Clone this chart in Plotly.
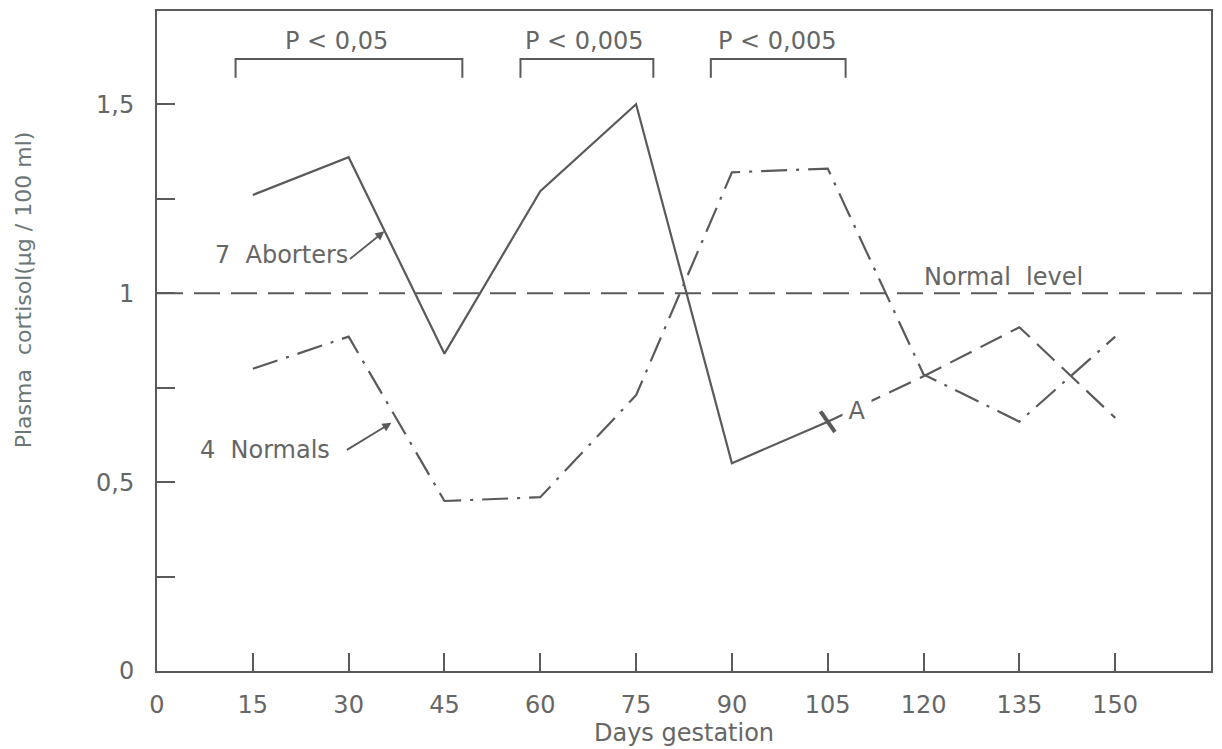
import plotly.graph_objects as go

# Days of gestation at which plasma cortisol was sampled
days = [15, 30, 45, 60, 75, 90, 105, 120, 135, 150]

# Mean plasma cortisol (µg / 100 ml)
aborters = [1.26, 1.36, 0.84, 1.27, 1.50, 0.55, 0.66, 0.78, 0.91, 0.67]
normals = [0.80, 0.885, 0.45, 0.46, 0.73, 1.32, 1.33, 0.785, 0.66, 0.885]
normal_level = 1.0

# Significance brackets: (start day, end day, label)
brackets = [(12.3, 47.8, "P < 0,05"), (56.9, 77.7, "P < 0,005"), (86.7, 107.8, "P < 0,005")]

x_ticks = [0, 15, 30, 45, 60, 75, 90, 105, 120, 135, 150]
y_ticks = [0, 0.25, 0.5, 0.75, 1.0, 1.25, 1.5]
y_tick_text = ["0", "", "0,5", "", "1", "", "1,5"]

INK = "#5a5a5a"
TEXT = "#666666"
FONT = "DejaVu Sans"
FS = 24

fig = go.Figure()

# Normal reference level
fig.add_trace(go.Scatter(
    x=[0, 165], y=[normal_level, normal_level], mode="lines",
    line=dict(color=INK, width=2, dash="26px,11px"), hoverinfo="skip"))

# Normals: dash-dot line
fig.add_trace(go.Scatter(
    x=days, y=normals, mode="lines",
    line=dict(color=INK, width=2.2, dash="26px,9px,3px,9px")))

# Aborters: solid until abortion (A), dashed afterwards
split = 6
fig.add_trace(go.Scatter(
    x=days[:split + 1], y=aborters[:split + 1], mode="lines",
    line=dict(color=INK, width=2.2)))
fig.add_trace(go.Scatter(
    x=days[split:], y=aborters[split:], mode="lines",
    line=dict(color=INK, width=2.2, dash="24px,10px")))
fig.add_trace(go.Scatter(
    x=[days[split]], y=[aborters[split]], mode="markers",
    marker=dict(symbol="line-ns", size=18, angle=-35,
                line=dict(color=INK, width=4)), hoverinfo="skip"))

shapes = []
annotations = []
top, leg = 1.62, 1.57
for x0, x1, label in brackets:
    shapes.append(dict(
        type="path", xref="x", yref="y",
        path=f"M {x0},{leg} L {x0},{top} L {x1},{top} L {x1},{leg}",
        line=dict(color=INK, width=2)))
annotations += [
    dict(x=28.1, y=1.667, text="P < 0,05", showarrow=False),
    dict(x=66.9, y=1.667, text="P < 0,005", showarrow=False),
    dict(x=97.2, y=1.667, text="P < 0,005", showarrow=False),
    dict(x=132.5, y=1.042, text="Normal  level", showarrow=False),
    dict(x=19.5, y=1.10, text="7  Aborters", showarrow=False),
    dict(x=16.9, y=0.586, text="4  Normals", showarrow=False),
    dict(x=109.6, y=0.688, text="A", showarrow=False, bgcolor="white",
         width=26, height=26),
    # leader arrows from labels to curves
    dict(x=35.6, y=1.164, ax=-36, ay=29, text="", showarrow=True,
         arrowhead=2, arrowsize=1, arrowwidth=1.8, arrowcolor=INK, standoff=0),
    dict(x=36.7, y=0.657, ax=-46, ay=28, text="", showarrow=True,
         arrowhead=2, arrowsize=1, arrowwidth=1.8, arrowcolor=INK, standoff=0),
    # vertical axis title
    dict(xref="paper", yref="paper", x=-0.127, y=0.577, xanchor="center",
         yanchor="middle", text="Plasma  cortisol(µg / 100 ml)", textangle=-90,
         showarrow=False, font=dict(family=FONT, size=22, color="#6b7676")),
]
for a in annotations:
    a.setdefault("font", dict(family=FONT, size=FS, color=TEXT))

fig.update_layout(
    width=1222, height=749,
    margin=dict(l=157, r=9, t=10, b=77),
    paper_bgcolor="white", plot_bgcolor="white",
    showlegend=False,
    shapes=shapes, annotations=annotations,
    font=dict(family=FONT, size=FS, color=TEXT),
    xaxis=dict(
        range=[0, 165], tickvals=x_ticks, ticks="inside", ticklen=18,
        tickwidth=2, tickcolor=INK, showgrid=False, zeroline=False,
        showline=True, linecolor=INK, linewidth=2, mirror=True,
        ticklabelstandoff=11,
        title=dict(text="Days gestation", standoff=4,
                   font=dict(family=FONT, size=FS, color=TEXT))),
    yaxis=dict(
        range=[0, 1.747], tickvals=y_ticks, ticktext=y_tick_text,
        ticks="inside", ticklen=18, tickwidth=2, tickcolor=INK,
        showgrid=False, zeroline=False, showline=True, linecolor=INK,
        linewidth=2, mirror=True, ticklabelstandoff=16),
)

fig.write_html("out.html")
